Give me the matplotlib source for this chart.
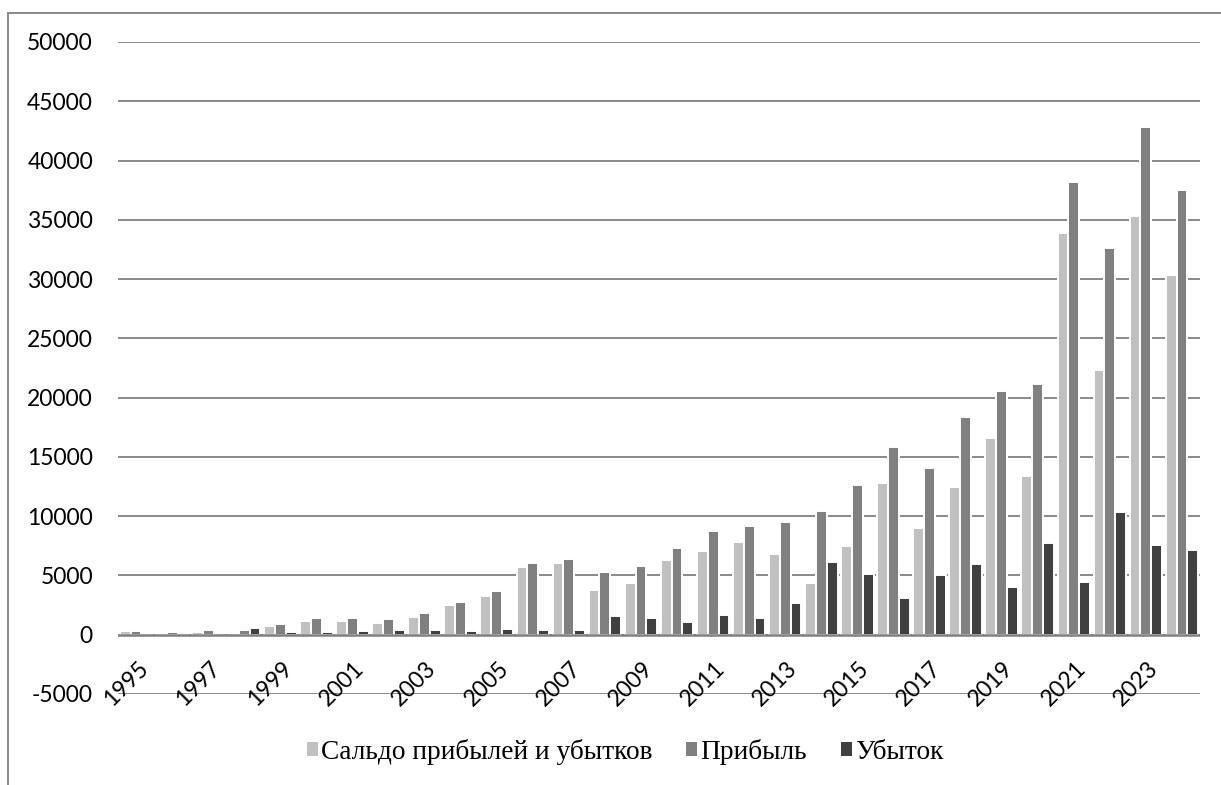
import matplotlib
matplotlib.use('Agg')
import matplotlib.pyplot as plt
from matplotlib.patches import Patch
from matplotlib.lines import Line2D
import numpy as np

plt.rcParams['axes.unicode_minus'] = False

years = list(range(1995, 2025))
saldo = [300, 130, 220, -110, 700, 1200, 1150, 950, 1480, 2500,
         3260, 5710, 6020, 3760, 4400, 6300, 7080, 7800, 6830, 4400,
         7500, 12780, 9030, 12420, 16620, 13410, 33870, 22290, 35310, 30360]
profit = [310, 250, 390, 420, 900, 1400, 1400, 1330, 1870, 2760,
          3680, 6070, 6400, 5320, 5820, 7300, 8750, 9160, 9470, 10440,
          12660, 15810, 14100, 18330, 20550, 21120, 38190, 32610, 42810, 37500]
loss = [60, 120, 140, 530, 220, 200, 280, 380, 390, 300,
        470, 390, 390, 1590, 1420, 1060, 1700, 1420, 2650, 6120,
        5160, 3060, 5040, 5940, 4020, 7770, 4410, 10350, 7560, 7170]
labels = ['Сальдо прибылей и убытков', 'Прибыль', 'Убыток']
colors = ['#c0c0c0', '#808080', '#404040']

fig = plt.figure(figsize=(12.21, 7.85), dpi=100)
ax = fig.add_axes([118/1221, 1-694/785, (1200-118)/1221, (694-42)/785])

x = np.arange(len(years))
w = 0.3
for k, vals in enumerate([saldo, profit, loss]):
    ax.bar(x + (k-1)*w, vals, w, color=colors[k], edgecolor='white',
           linewidth=1.4, zorder=2)

ax.set_xlim(-0.5, len(years)-0.5)
ax.set_ylim(-5000, 50000)
ax.set_yticks(range(-5000, 50001, 5000))
ax.yaxis.grid(True, color='#8a8a8a', linewidth=1.4)
ax.set_axisbelow(True)
ax.axhline(0, color='#7f7f7f', linewidth=1.8, zorder=3)
for s in ax.spines.values():
    s.set_visible(False)
ax.tick_params(axis='y', length=0, pad=18, labelsize=16.5)
for t in ax.get_yticklabels():
    t.set_fontfamily('Lato')
ax.set_xticks([])

# year labels every second category, rotated like the source
for i, yr in enumerate(years):
    if yr % 2 == 1:
        ax.text(i + 0.03, -1900, str(yr), rotation=45, rotation_mode='anchor',
                ha='right', va='top', fontsize=16.5, family='Lato')

# outer frame
fig.add_artist(Line2D([8/1221, 1], [1-13/785, 1-13/785], color='#8a8a8a', lw=1.4))
fig.add_artist(Line2D([8/1221, 8/1221], [0, 1-13/785], color='#8a8a8a', lw=1.4))

handles = [Patch(facecolor=c) for c in colors]
fig.legend(handles, labels, loc='center', bbox_to_anchor=(625/1221, 1-752/785),
           ncol=3, frameon=False, prop={'family': 'Liberation Serif', 'size': 19.7},
           handlelength=0.4, handleheight=0.4, handletextpad=0.1, columnspacing=1.25)

fig.savefig('out.png', dpi=100)
